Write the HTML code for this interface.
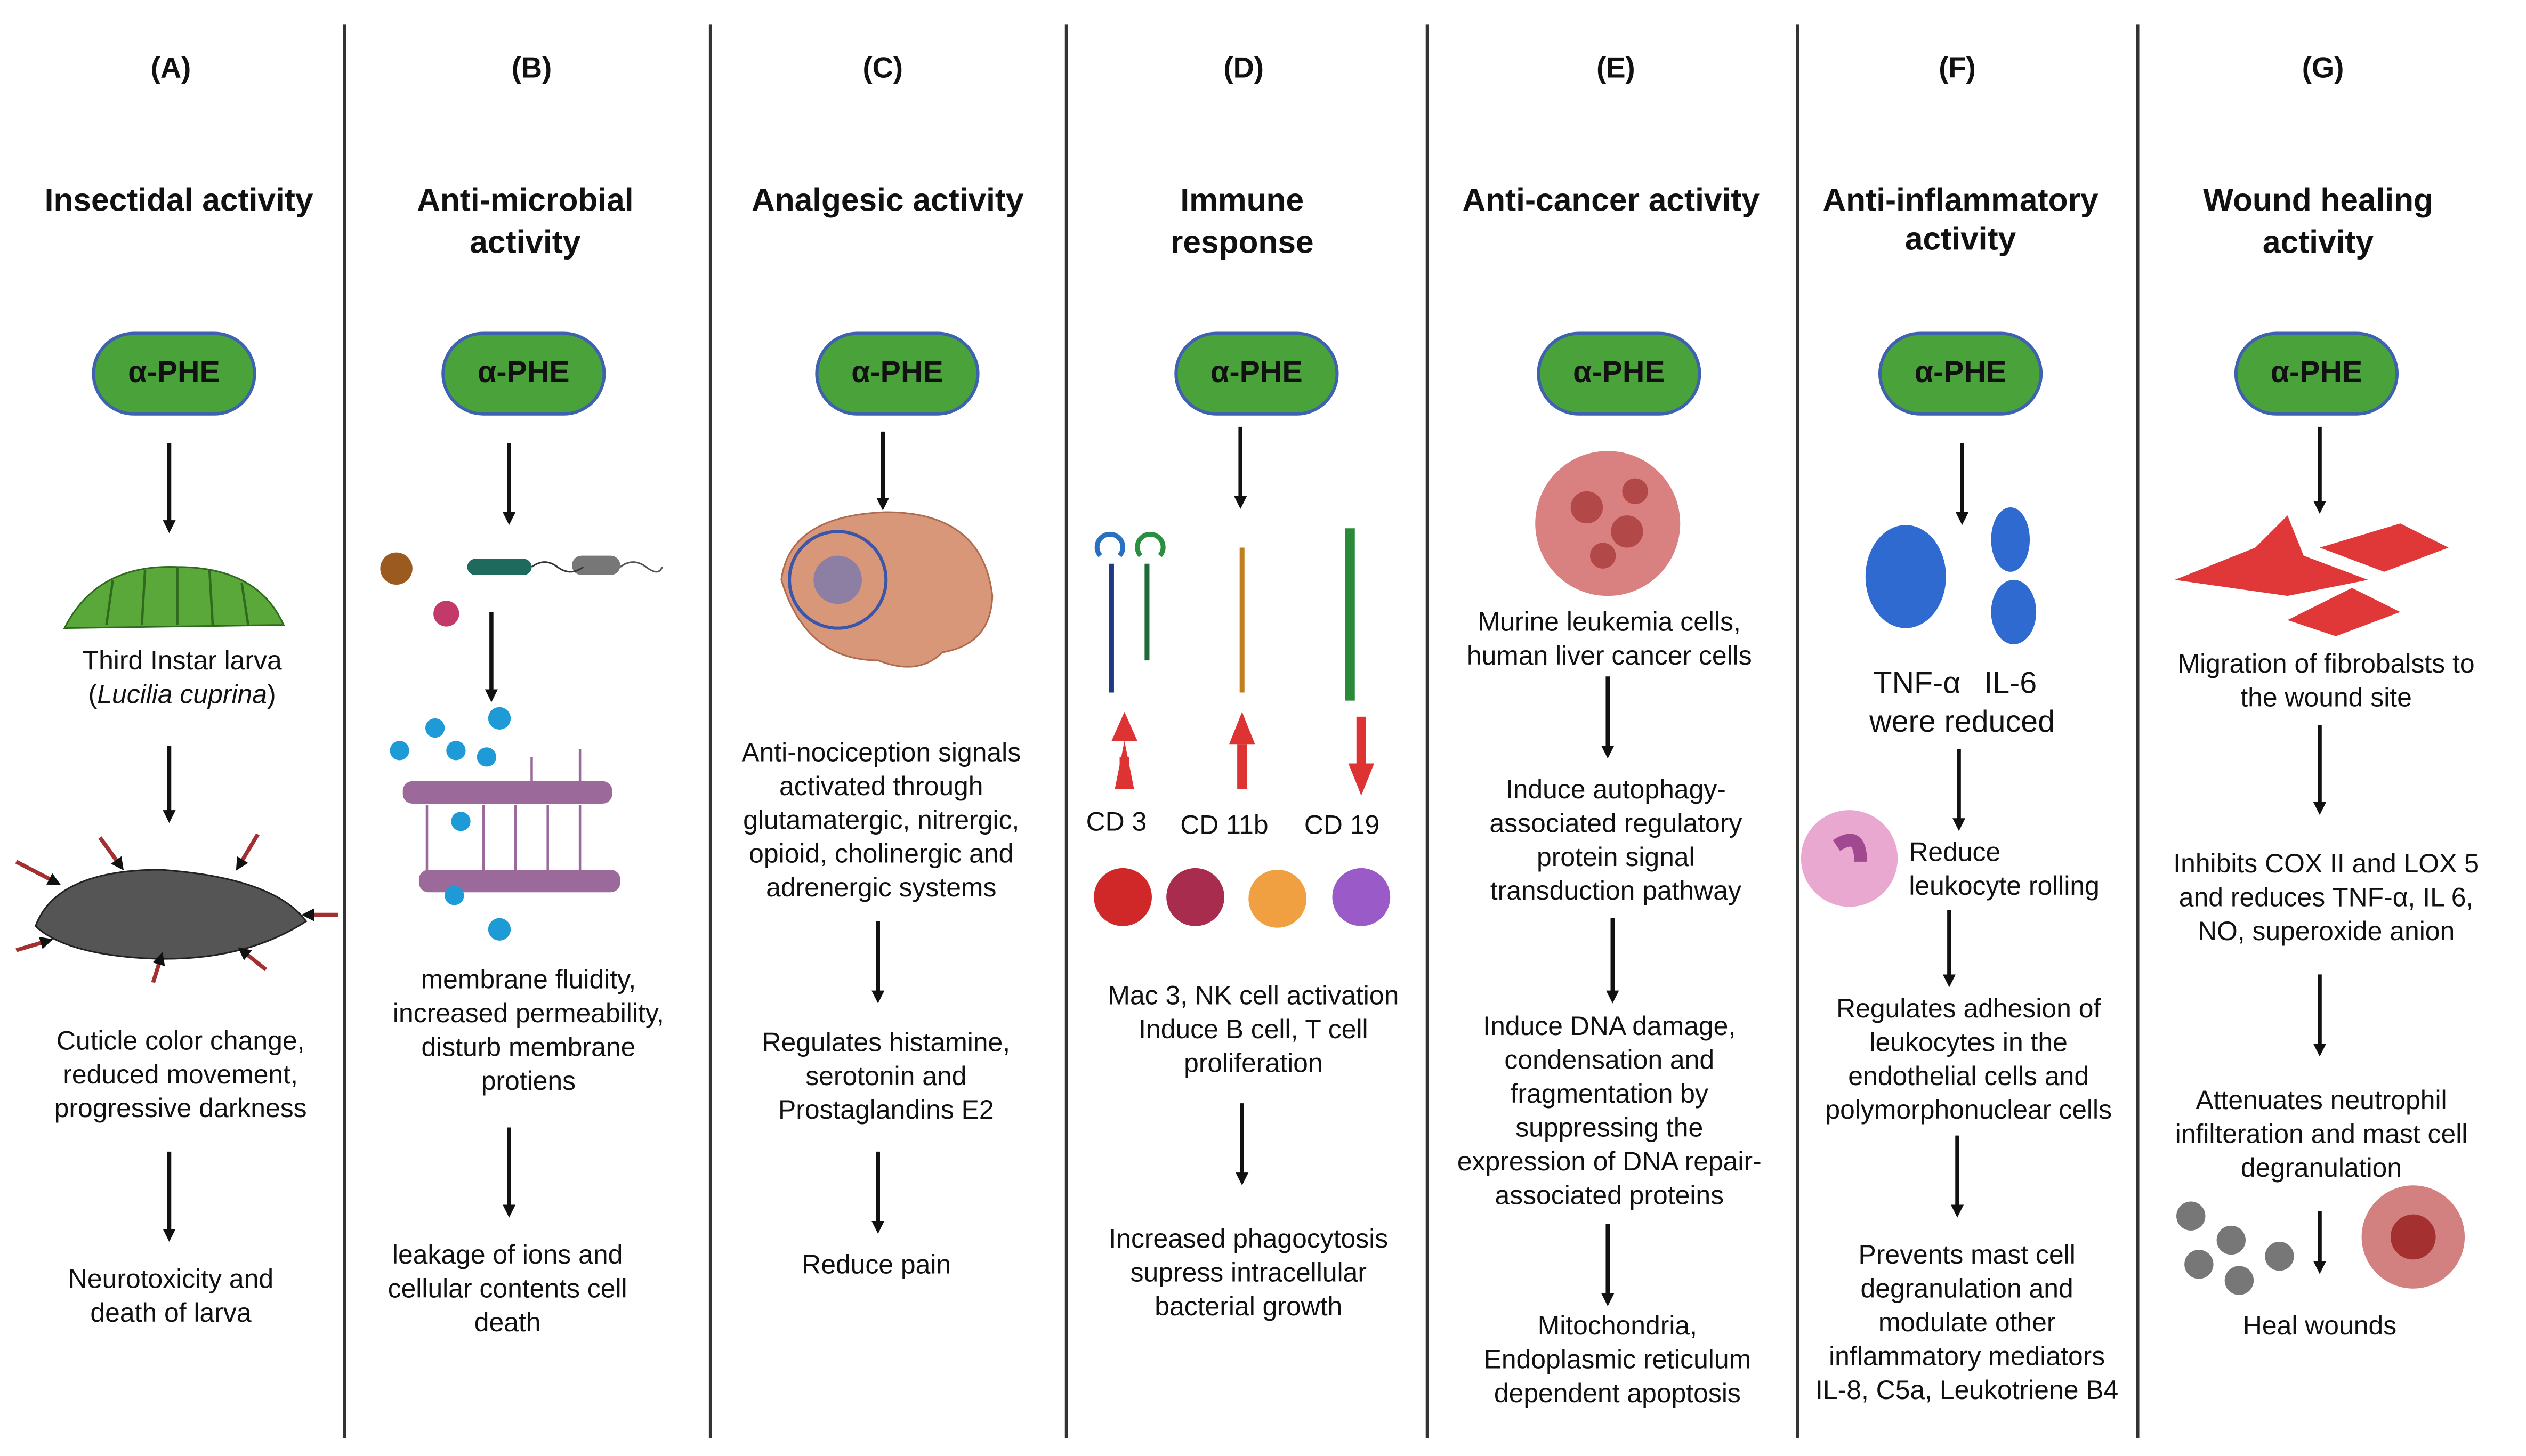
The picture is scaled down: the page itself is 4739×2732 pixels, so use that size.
<!DOCTYPE html>
<html><head><meta charset="utf-8"><style>
html,body{margin:0;padding:0;background:#fff;}
svg{display:block;}
text{font-family:"Liberation Sans",sans-serif;fill:#111;}
.h{font-size:18px;font-weight:bold;}
.t{font-size:20px;font-weight:bold;}
.b{font-size:16.5px;}
.p{font-size:19px;font-weight:bold;}
</style></head><body>
<svg width="4739" height="2732" viewBox="0 0 1568 904" xmlns="http://www.w3.org/2000/svg">
<defs>
<marker id="ah" markerWidth="8" markerHeight="8" refX="5" refY="4" orient="auto" markerUnits="userSpaceOnUse" viewBox="0 0 8 8"><path d="M0,0 L8,4 L0,8 z" fill="#111"/></marker>
</defs>
<rect width="1568" height="904" fill="#fff"/>
<g stroke="#333" stroke-width="2">
<line x1="214" y1="15" x2="214" y2="893"/><line x1="441" y1="15" x2="441" y2="893"/>
<line x1="662" y1="15" x2="662" y2="893"/><line x1="886" y1="15" x2="886" y2="893"/>
<line x1="1116" y1="15" x2="1116" y2="893"/><line x1="1327" y1="15" x2="1327" y2="893"/>
</g>
<g text-anchor="middle" dominant-baseline="central">
<text class="h" x="106" y="42">(A)</text><text class="h" x="330" y="42">(B)</text><text class="h" x="548" y="42">(C)</text>
<text class="h" x="772" y="42">(D)</text><text class="h" x="1003" y="42">(E)</text><text class="h" x="1215" y="42">(F)</text><text class="h" x="1442" y="42">(G)</text>
<text class="t" x="111" y="124">Insectidal activity</text>
<text class="t" x="326" y="124">Anti-microbial</text><text class="t" x="326" y="150">activity</text>
<text class="t" x="551" y="124">Analgesic activity</text>
<text class="t" x="771" y="124">Immune</text><text class="t" x="771" y="150">response</text>
<text class="t" x="1000" y="124">Anti-cancer activity</text>
<text class="t" x="1217" y="124">Anti-inflammatory</text><text class="t" x="1217" y="148">activity</text>
<text class="t" x="1439" y="124">Wound healing</text><text class="t" x="1439" y="150">activity</text>
</g>
<g stroke="#3f62b0" stroke-width="2" fill="#4aa23a">
<rect x="58" y="207" width="100" height="50" rx="25"/><rect x="275" y="207" width="100" height="50" rx="25"/>
<rect x="507" y="207" width="100" height="50" rx="25"/><rect x="730" y="207" width="100" height="50" rx="25"/>
<rect x="955" y="207" width="100" height="50" rx="25"/><rect x="1167" y="207" width="100" height="50" rx="25"/>
<rect x="1388" y="207" width="100" height="50" rx="25"/>
</g>
<g text-anchor="middle" dominant-baseline="central" class="p">
<text class="p" x="108" y="231">α-PHE</text><text class="p" x="325" y="231">α-PHE</text><text class="p" x="557" y="231">α-PHE</text>
<text class="p" x="780" y="231">α-PHE</text><text class="p" x="1005" y="231">α-PHE</text><text class="p" x="1217" y="231">α-PHE</text>
<text class="p" x="1438" y="231">α-PHE</text>
</g>
<g stroke="#111" stroke-width="2.5" marker-end="url(#ah)">
<line x1="105" y1="275" x2="105" y2="328"/><line x1="105" y1="463" x2="105" y2="508"/><line x1="105" y1="715" x2="105" y2="768"/>
<line x1="316" y1="275" x2="316" y2="323"/><line x1="305" y1="380" x2="305" y2="433"/><line x1="316" y1="700" x2="316" y2="753"/>
<line x1="548" y1="268" x2="548" y2="314"/><line x1="545" y1="572" x2="545" y2="620"/><line x1="545" y1="715" x2="545" y2="763"/>
<line x1="770" y1="265" x2="770" y2="313"/><line x1="771" y1="685" x2="771" y2="733"/>
<line x1="998" y1="420" x2="998" y2="468"/><line x1="1001" y1="570" x2="1001" y2="620"/><line x1="998" y1="760" x2="998" y2="808"/>
<line x1="1218" y1="275" x2="1218" y2="323"/><line x1="1216" y1="465" x2="1216" y2="513"/><line x1="1210" y1="565" x2="1210" y2="610"/><line x1="1215" y1="705" x2="1215" y2="753"/>
<line x1="1440" y1="265" x2="1440" y2="316"/><line x1="1440" y1="450" x2="1440" y2="503"/><line x1="1440" y1="605" x2="1440" y2="653"/><line x1="1440" y1="752" x2="1440" y2="788"/>
</g>
<!-- illustrations -->
<!-- larva -->
<path d="M40,390 Q60,350 110,352 Q160,352 176,388 Z" fill="#5aa83a" stroke="#2e6b1e"/>
<g stroke="#2e6b1e" stroke-width="1.5"><line x1="70" y1="360" x2="66" y2="388"/><line x1="90" y1="354" x2="88" y2="388"/><line x1="110" y1="352" x2="110" y2="388"/><line x1="130" y1="354" x2="132" y2="388"/><line x1="150" y1="362" x2="154" y2="388"/></g>
<!-- dark larva -->
<path d="M22,575 Q35,540 100,540 Q170,545 190,572 Q150,598 90,595 Q40,592 22,575Z" fill="#555" stroke="#222"/>
<g stroke="#a23030" stroke-width="2.5" marker-end="url(#ah)">
<line x1="10" y1="535" x2="35" y2="548"/><line x1="62" y1="520" x2="75" y2="538"/><line x1="160" y1="518" x2="148" y2="538"/><line x1="210" y1="568" x2="190" y2="568"/><line x1="10" y1="590" x2="30" y2="584"/><line x1="95" y1="610" x2="100" y2="594"/><line x1="165" y1="602" x2="150" y2="590"/></g>
<!-- microbes -->
<circle cx="246" cy="353" r="10" fill="#9a5a20"/><circle cx="277" cy="381" r="8" fill="#c23a6a"/>
<rect x="290" y="347" width="40" height="10" rx="5" fill="#1e6b5e"/><rect x="355" y="345" width="30" height="12" rx="6" fill="#777"/>
<path d="M330,352 q8,-6 16,0 t16,0" stroke="#333" fill="none"/><path d="M385,352 q8,-6 16,0 t10,0" stroke="#555" fill="none"/>
<!-- membrane -->
<g fill="#9b6a9b"><rect x="250" y="485" width="130" height="14" rx="6"/><rect x="260" y="540" width="125" height="14" rx="6"/></g>
<g stroke="#9b6a9b" stroke-width="1.5"><line x1="300" y1="500" x2="300" y2="540"/><line x1="320" y1="500" x2="320" y2="540"/><line x1="340" y1="500" x2="340" y2="540"/><line x1="360" y1="500" x2="360" y2="540"/><line x1="265" y1="500" x2="265" y2="540"/><line x1="330" y1="470" x2="330" y2="485"/><line x1="360" y1="465" x2="360" y2="485"/></g>
<g fill="#1e9ad6"><circle cx="310" cy="446" r="7"/><circle cx="283" cy="466" r="6"/><circle cx="248" cy="466" r="6"/><circle cx="270" cy="452" r="6"/><circle cx="302" cy="470" r="6"/><circle cx="286" cy="510" r="6"/><circle cx="282" cy="556" r="6"/><circle cx="310" cy="577" r="7"/></g>
<!-- brain -->
<path d="M485,360 Q490,320 550,318 Q610,318 616,370 Q615,400 585,405 Q570,420 545,410 Q500,410 485,360Z" fill="#d9977a" stroke="#b06a4e"/>
<circle cx="520" cy="360" r="30" fill="none" stroke="#3b56a8" stroke-width="2"/><circle cx="520" cy="360" r="15" fill="#5a6fc0" opacity=".6"/>
<!-- CD receptors -->
<g stroke-width="3" fill="none">
<line x1="690" y1="350" x2="690" y2="430" stroke="#1e3a80"/><line x1="712" y1="350" x2="712" y2="410" stroke="#1e6b3a"/>
<path d="M683,345 a8,8 0 1 1 12,0" stroke="#2a70c0"/><path d="M708,345 a8,8 0 1 1 12,0" stroke="#2a9040"/>
<line x1="771" y1="340" x2="771" y2="430" stroke="#c08020"/><line x1="838" y1="328" x2="838" y2="435" stroke="#2a8a3a" stroke-width="6"/>
</g>
<g fill="#d33"><path d="M692,490 L698,460 L704,490Z"/><rect x="695" y="470" width="6" height="20"/><path d="M690,460 L698,442 L706,460Z"/>
<rect x="768" y="462" width="6" height="28"/><path d="M763,462 L771,442 L779,462Z"/>
<rect x="842" y="445" width="6" height="30"/><path d="M837,474 L845,494 L853,474Z"/></g>
<circle cx="697" cy="557" r="18" fill="#d02828"/><circle cx="742" cy="557" r="18" fill="#a82c4e"/><circle cx="793" cy="558" r="18" fill="#f0a040"/><circle cx="845" cy="557" r="18" fill="#9a5ac8"/>
<!-- cancer cells -->
<circle cx="998" cy="325" r="45" fill="#d98080"/><g fill="#b34848"><circle cx="985" cy="315" r="10"/><circle cx="1010" cy="330" r="10"/><circle cx="995" cy="345" r="8"/><circle cx="1015" cy="305" r="8"/></g>
<!-- TNF IL6 -->
<ellipse cx="1183" cy="358" rx="25" ry="32" fill="#2e6ad0"/><ellipse cx="1248" cy="335" rx="12" ry="20" fill="#2e6ad0"/><ellipse cx="1250" cy="380" rx="14" ry="20" fill="#2e6ad0"/>
<circle cx="1148" cy="533" r="30" fill="#e8a8d0"/><path d="M1140,525 q15,-10 15,10" stroke="#a04890" stroke-width="8" fill="none"/>
<!-- fibroblasts -->
<g fill="#e03838"><path d="M1350,360 L1400,340 L1420,320 L1430,345 L1470,360 L1420,370 Z"/><path d="M1440,340 L1490,325 L1520,340 L1480,355Z"/><path d="M1420,385 L1460,365 L1490,380 L1450,395Z"/></g>
<g fill="#777"><circle cx="1360" cy="755" r="9"/><circle cx="1385" cy="770" r="9"/><circle cx="1365" cy="785" r="9"/><circle cx="1390" cy="795" r="9"/><circle cx="1415" cy="780" r="9"/></g>
<circle cx="1498" cy="768" r="32" fill="#d28080"/><circle cx="1498" cy="768" r="14" fill="#a53030"/>
<!-- text -->
<g text-anchor="middle" dominant-baseline="central" class="b">
<text class="b" x="113" y="410">Third Instar larva</text><text class="b" x="113" y="431">(<tspan font-style="italic">Lucilia cuprina</tspan>)</text>
<text class="b" x="112" y="646">Cuticle color change,</text><text class="b" x="112" y="667">reduced movement,</text><text class="b" x="112" y="688">progressive darkness</text>
<text class="b" x="106" y="794">Neurotoxicity and</text><text class="b" x="106" y="815">death of larva</text>
<text class="b" x="328" y="608">membrane fluidity,</text><text class="b" x="328" y="629">increased permeability,</text><text class="b" x="328" y="650">disturb membrane</text><text class="b" x="328" y="671">protiens</text>
<text class="b" x="315" y="779">leakage of ions and</text><text class="b" x="315" y="800">cellular contents  cell</text><text class="b" x="315" y="821">death</text>
<text class="b" x="547" y="467">Anti-nociception signals</text><text class="b" x="547" y="488">activated through</text><text class="b" x="547" y="509">glutamatergic, nitrergic,</text><text class="b" x="547" y="530">opioid, cholinergic and</text><text class="b" x="547" y="551">adrenergic systems</text>
<text class="b" x="550" y="647">Regulates histamine,</text><text class="b" x="550" y="668">serotonin and</text><text class="b" x="550" y="689">Prostaglandins E2</text>
<text class="b" x="544" y="785">Reduce pain</text>
<text class="b" x="693" y="510">CD 3</text><text class="b" x="760" y="512">CD 11b</text><text class="b" x="833" y="512">CD 19</text>
<text class="b" x="778" y="618">Mac 3, NK cell activation</text><text class="b" x="778" y="639">Induce B cell, T cell</text><text class="b" x="778" y="660">proliferation</text>
<text class="b" x="775" y="769">Increased phagocytosis</text><text class="b" x="775" y="790">supress intracellular</text><text class="b" x="775" y="811">bacterial growth</text>
<text class="b" x="999" y="386">Murine leukemia cells,</text><text class="b" x="999" y="407">human liver cancer cells</text>
<text class="b" x="1003" y="490">Induce autophagy-</text><text class="b" x="1003" y="511">associated regulatory</text><text class="b" x="1003" y="532">protein signal</text><text class="b" x="1003" y="553">transduction pathway</text>
<text class="b" x="999" y="637">Induce DNA damage,</text><text class="b" x="999" y="658">condensation and</text><text class="b" x="999" y="679">fragmentation by</text><text class="b" x="999" y="700">suppressing the</text><text class="b" x="999" y="721">expression of DNA repair-</text><text class="b" x="999" y="742">associated proteins</text>
<text class="b" x="1004" y="823">Mitochondria,</text><text class="b" x="1004" y="844">Endoplasmic reticulum</text><text class="b" x="1004" y="865">dependent apoptosis</text>
<text x="1190" y="424" style="font-size:19px">TNF-α</text><text x="1248" y="424" style="font-size:19px">IL-6</text><text x="1218" y="448" style="font-size:19px">were reduced</text>
<text class="b" x="1185" y="529" text-anchor="start">Reduce</text><text class="b" x="1185" y="550" text-anchor="start">leukocyte rolling</text>
<text class="b" x="1222" y="626">Regulates  adhesion of</text><text class="b" x="1222" y="647">leukocytes  in the</text><text class="b" x="1222" y="668">endothelial cells and</text><text class="b" x="1222" y="689">polymorphonuclear cells</text>
<text class="b" x="1221" y="779">Prevents mast cell</text><text class="b" x="1221" y="800">degranulation and</text><text class="b" x="1221" y="821">modulate other</text><text class="b" x="1221" y="842">inflammatory mediators</text><text class="b" x="1221" y="863">IL-8, C5a, Leukotriene B4</text>
<text class="b" x="1444" y="412">Migration of fibrobalsts to</text><text class="b" x="1444" y="433">the wound site</text>
<text class="b" x="1444" y="536">Inhibits COX II and LOX 5</text><text class="b" x="1444" y="557">and reduces TNF-α, IL 6,</text><text class="b" x="1444" y="578">NO, superoxide anion</text>
<text class="b" x="1441" y="683">Attenuates neutrophil</text><text class="b" x="1441" y="704">infilteration and mast cell</text><text class="b" x="1441" y="725">degranulation</text>
<text class="b" x="1440" y="823">Heal wounds</text>
</g>
</svg>
</body></html>
